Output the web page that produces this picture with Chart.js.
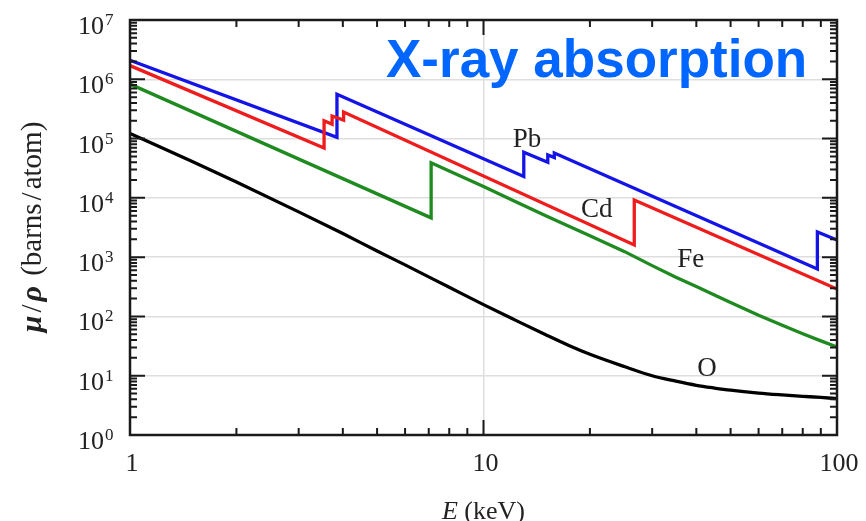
<!DOCTYPE html>
<html>
<head>
<meta charset="utf-8">
<script src="https://cdn.jsdelivr.net/npm/chart.js@4/dist/chart.umd.min.js"></script>
<style>
  html, body { margin: 0; padding: 0; background: #fff; }
  #wrap { width: 866px; height: 521px; }
</style>
</head>
<body>
<div id="wrap"><canvas id="c" width="866" height="521"></canvas></div>
<script>
// ---- data ----
const pbE = [1, 3.85, 3.85, 13.0, 13.0, 15.2, 15.2, 15.86, 15.86, 88.0, 88.0, 100];
const pbV = [2.1e6, 1.05e5, 5.6e5, 2.3e4, 5.9e4, 4.0e4, 5.3e4, 4.8e4, 5.7e4, 6.3e2, 2.65e3, 1.95e3];

const cdE = [1, 3.54, 3.54, 3.73, 3.73, 4.02, 4.02, 26.7, 26.7, 100];
const cdV = [1.7e6, 6.9e4, 2.0e5, 1.75e5, 2.4e5, 2.05e5, 2.8e5, 1.6e3, 9.2e3, 2.9e2];

const feE = [1, 7.11, 7.11, 8, 10, 12, 15, 17.5, 20, 25, 30, 35, 40, 45, 50, 60, 70, 80, 90, 100];
const feV = [8.3e5, 4.6e3, 3.9e4, 2.85e4, 1.55e4, 9.3e3, 5.0e3, 3.3e3, 2.3e3, 1.25e3, 7.2e2, 4.6e2, 3.2e2, 2.3e2, 1.72e2, 1.05e2, 71, 51, 38.7, 30.5];

const oE = [1, 1.5, 2, 3, 4, 5, 6, 8, 10, 12, 15, 17.5, 20, 25, 30, 35, 40, 45, 50, 60, 70, 80, 90, 100];
const oV = [1.22e5, 4.1e4, 1.85e4, 5.8e3, 2.5e3, 1.27e3, 740, 310, 158, 93, 49, 32, 23, 14.3, 10, 8.1, 6.9, 6.2, 5.7, 5.1, 4.75, 4.5, 4.3, 4.1];

const xTickVals = [1, 10, 100];
const xTickLabels = ['1', '10', '100'];
const yTickVals = [1, 10, 100, 1e3, 1e4, 1e5, 1e6, 1e7];
const yTickExps = ['0', '1', '2', '3', '4', '5', '6', '7'];

const labelNames = ['Pb', 'Cd', 'Fe', 'O'];
const labelE = [13.27, 20.9, 38.6, 42.9];
const labelV = [7.19e4, 4.75e3, 681, 9.9];

const titleText = 'X-ray absorption';
const xTitle = ['E', ' (keV)'];
// y title parts: [text, italic]
const yTitleParts = [['μ', true], ['/', false], ['ρ', true], [' (barns', false], ['/', false], ['atom)', false]];

// ---- build ----
const pts = (xs, ys) => xs.map((x, i) => ({ x: x, y: ys[i] }));
const seriesStyle = (color) => ({
  borderColor: color, backgroundColor: color, borderWidth: 3.3,
  pointRadius: 0, tension: 0, fill: false
});

const serif = "'Liberation Serif', 'Times New Roman', serif";

const decor = {
  id: 'decor',
  afterDatasetsDraw(chart) {
    const ctx = chart.ctx;
    const a = chart.chartArea;
    const xs = chart.scales.x, ys = chart.scales.y;
    ctx.save();
    ctx.strokeStyle = '#1a1a1a';
    ctx.lineWidth = 2;
    const major = 15, minor = 7;
    const xMinor = [], yMinor = [];
    for (const d of [1, 10]) for (let m = 2; m <= 9; m++) xMinor.push(m * d);
    for (let e = 0; e < 7; e++) for (let m = 2; m <= 9; m++) yMinor.push(m * Math.pow(10, e));
    ctx.beginPath();
    const xTick = (v, len) => {
      const p = xs.getPixelForValue(v);
      ctx.moveTo(p, a.bottom); ctx.lineTo(p, a.bottom - len);
      ctx.moveTo(p, a.top); ctx.lineTo(p, a.top + len);
    };
    const yTick = (v, len) => {
      const p = ys.getPixelForValue(v);
      ctx.moveTo(a.left, p); ctx.lineTo(a.left + len, p);
      ctx.moveTo(a.right, p); ctx.lineTo(a.right - len, p);
    };
    xTickVals.forEach(v => xTick(v, major));
    xMinor.forEach(v => xTick(v, minor));
    yTickVals.forEach(v => yTick(v, major));
    yMinor.forEach(v => yTick(v, minor));
    ctx.stroke();
    ctx.lineWidth = 2.5;
    ctx.strokeRect(a.left, a.top, a.right - a.left, a.bottom - a.top);
    ctx.restore();
  },
  afterDraw(chart) {
    const ctx = chart.ctx;
    const a = chart.chartArea;
    const xs = chart.scales.x, ys = chart.scales.y;
    ctx.save();
    ctx.fillStyle = '#222';
    ctx.textBaseline = 'alphabetic';
    // x tick labels
    ctx.font = '26px ' + serif;
    ctx.textAlign = 'center';
    xTickVals.forEach((v, i) => {
      ctx.fillText(xTickLabels[i], xs.getPixelForValue(v) + 2, a.bottom + 36);
    });
    // y tick labels 10^n
    yTickVals.forEach((v, i) => {
      const p = ys.getPixelForValue(v);
      ctx.font = '26px ' + serif;
      ctx.textAlign = 'right';
      ctx.fillText('10', 104, p + 14);
      ctx.font = '17px ' + serif;
      ctx.textAlign = 'left';
      ctx.fillText(yTickExps[i], 105, p + 5);
    });
    // x title
    ctx.textAlign = 'left';
    ctx.font = 'italic 26px ' + serif;
    const w1 = ctx.measureText(xTitle[0]).width;
    ctx.font = '26px ' + serif;
    const w2 = ctx.measureText(xTitle[1]).width;
    const sx = xs.getPixelForValue(10) - (w1 + w2) / 2;
    ctx.font = 'italic 26px ' + serif;
    ctx.fillText(xTitle[0], sx, 519);
    ctx.font = '26px ' + serif;
    ctx.fillText(xTitle[1], sx + w1, 519);
    // y title (rotated, mixed italic)
    ctx.save();
    ctx.translate(41, 227);
    ctx.rotate(-Math.PI / 2);
    ctx.textAlign = 'left';
    const fontOf = it => (it ? 'italic bold 30px ' : '29px ') + serif;
    let total = 0;
    const gap = 3;
    yTitleParts.forEach(([t, it]) => { ctx.font = fontOf(it); total += ctx.measureText(t).width + gap; });
    total -= gap;
    let px = -total / 2;
    yTitleParts.forEach(([t, it]) => {
      ctx.font = fontOf(it);
      ctx.fillText(t, px, 0);
      px += ctx.measureText(t).width + gap;
    });
    ctx.restore();
    // in-plot labels
    ctx.font = '27px ' + serif;
    ctx.textAlign = 'center';
    labelNames.forEach((t, i) => {
      ctx.fillText(t, xs.getPixelForValue(labelE[i]), ys.getPixelForValue(labelV[i]));
    });
    // big title
    ctx.font = "bold 53px 'Liberation Sans', Arial, sans-serif";
    ctx.fillStyle = '#0066ff';
    ctx.textAlign = 'left';
    ctx.fillText(titleText, 386, 77);
    ctx.restore();
  }
};

new Chart(document.getElementById('c'), {
  type: 'line',
  data: {
    datasets: [
      Object.assign({ label: 'O', data: pts(oE, oV) }, seriesStyle('#000000'), { cubicInterpolationMode: 'monotone' }),
      Object.assign({ label: 'Fe', data: pts(feE, feV) }, seriesStyle('#1f8a1f')),
      Object.assign({ label: 'Cd', data: pts(cdE, cdV) }, seriesStyle('#ee1c1c')),
      Object.assign({ label: 'Pb', data: pts(pbE, pbV) }, seriesStyle('#1414e6'))
    ]
  },
  options: {
    responsive: false,
    animation: false,
    devicePixelRatio: 1,
    layout: { padding: { left: 130, top: 20, right: 29, bottom: 86 } },
    plugins: { legend: { display: false }, tooltip: { enabled: false }, title: { display: false } },
    scales: {
      x: {
        type: 'logarithmic', min: 1, max: 100,
        afterBuildTicks: s => { s.ticks = xTickVals.map(v => ({ value: v })); },
        afterFit: s => { s.height = 0; },
        ticks: { display: false },
        grid: { color: '#dedede', lineWidth: 1.5, drawTicks: false },
        border: { display: false }
      },
      y: {
        type: 'logarithmic', min: 1, max: 1e7,
        afterBuildTicks: s => { s.ticks = yTickVals.map(v => ({ value: v })); },
        afterFit: s => { s.width = 0; },
        ticks: { display: false },
        grid: { color: '#dedede', lineWidth: 1.5, drawTicks: false },
        border: { display: false }
      }
    }
  },
  plugins: [decor]
});
</script>
</body>
</html>
